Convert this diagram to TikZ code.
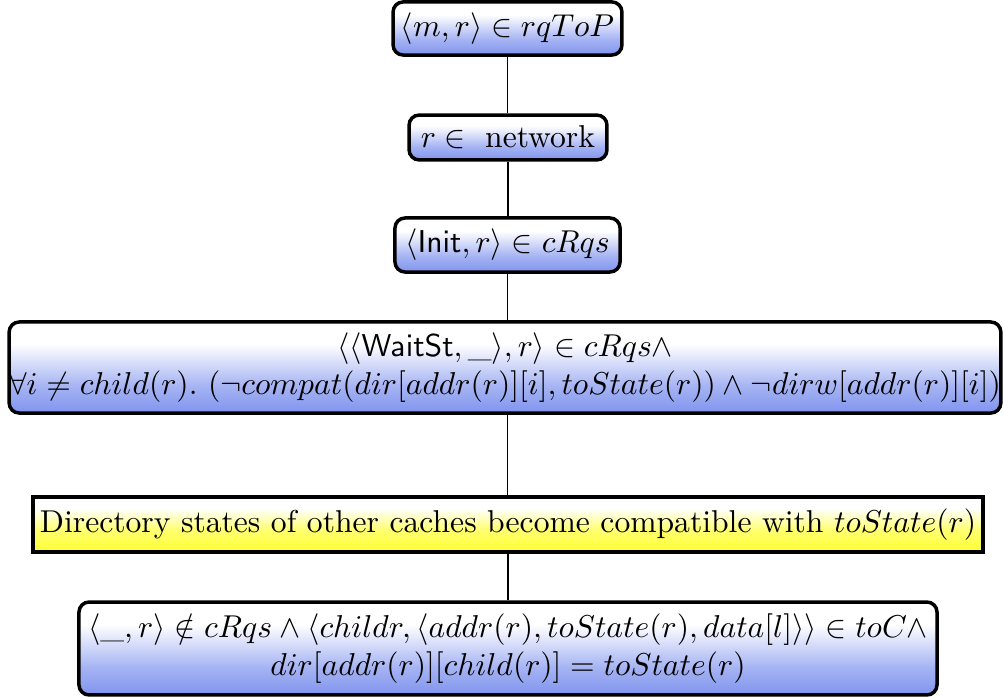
\documentclass[tikz,border=0pt]{standalone}
\usepackage{amsmath,amssymb}
\definecolor{boxblue}{RGB}{128,148,238}
\definecolor{boxyellow}{RGB}{255,255,50}
% vertical fades: white upper part, saturated lower part
\pgfdeclareverticalshading{blueshade}{100bp}{color(0bp)=(boxblue); color(25bp)=(boxblue); color(40bp)=(boxblue!70!white); color(63bp)=(white); color(100bp)=(white)}
\pgfdeclareverticalshading{yellowshade}{100bp}{color(0bp)=(boxyellow); color(25bp)=(boxyellow); color(45bp)=(boxyellow!70!white); color(65bp)=(white); color(100bp)=(white)}
\tikzset{
  cond/.style={draw=black, line width=1.1pt, rounded corners=3.2pt, shade, shading=blueshade,
    inner sep=0pt, align=center},
  action/.style={draw=black, line width=1.1pt, shade, shading=yellowshade, inner sep=0pt, align=center},
  link/.style={draw=black, line width=0.45pt}
}
\begin{document}
\begin{tikzpicture}[x=0.3163pt, y=-0.3163pt]
  \useasboundingbox (0,0) rectangle (1003,698);
  \node[cond, minimum width=72.4pt, minimum height=16.8pt] (rq) at (507.5,28.5)
    {$\langle m, r\rangle \in rqToP$};
  \node[cond, minimum width=62.6pt, minimum height=14.2pt] (net) at (508,137.5)
    {$r \in\ \mathrm{network}$};
  \node[cond, minimum width=71.2pt, minimum height=17.1pt] (init) at (507.5,245)
    {$\langle \mathsf{Init}, r\rangle \in cRqs$};
  \node[cond, minimum width=313.1pt, minimum height=28.8pt] (wait) at (505,367.5)
    {$\langle\langle \mathsf{WaitSt}, \text{\_}\rangle, r\rangle \in cRqs \wedge$\\
     $\forall i \neq child(r).\ (\neg compat(dir[addr(r)][i], toState(r)) \wedge \neg dirw[addr(r)][i])$};
  \node[action, minimum width=300.5pt, minimum height=17.4pt] (dir) at (508,524.5)
    {Directory states of other caches become compatible with $toState(r)$};
  \node[cond, minimum width=271.4pt, minimum height=29.4pt] (resp) at (508,648.5)
    {$\langle \text{\_}, r\rangle \notin cRqs \wedge \langle childr, \langle addr(r), toState(r), data[l]\rangle\rangle \in toC \wedge$\\
     $dir[addr(r)][child(r)] = toState(r)$};
  \draw[link] (rq.south) -- (rq.south |- net.north);
  \draw[link] (net.south) -- (net.south |- init.north);
  \draw[link] (init.south) -- (init.south |- wait.north);
  \draw[link] (init.south |- wait.south) -- (init.south |- dir.north);
  \draw[link] (dir.south) -- (dir.south |- resp.north);
\end{tikzpicture}
\end{document}
